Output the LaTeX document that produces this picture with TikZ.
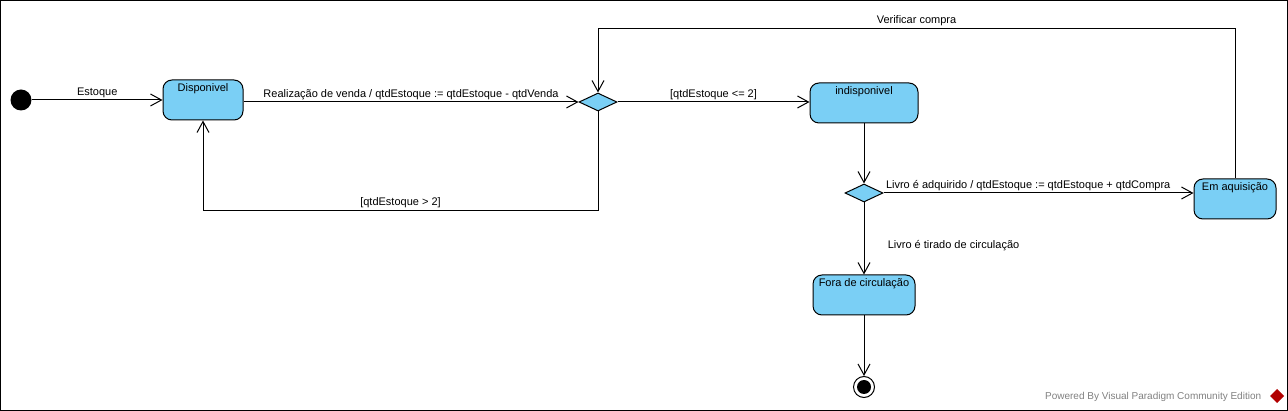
\documentclass[tikz,border=0pt]{standalone}
\usepackage{fontspec}
\setmainfont{Liberation Sans}
\usetikzlibrary{shapes.geometric,arrows.meta}
\definecolor{vpblue}{RGB}{122,207,245}

\begin{document}
\begin{tikzpicture}[x=1pt, y=-1pt, line width=1pt, font=\fontsize{11}{13}\selectfont,
		>={Straight Barb[length=11pt,width=12pt]},
		state/.style = {draw, fill=vpblue, rounded corners=9pt, minimum height=40pt, inner sep=3pt, text height=9pt, text depth=25pt},
		choice/.style = {draw, fill=vpblue, diamond, minimum width=38pt, minimum height=18pt, inner sep=0pt},
		init/.style = {circle, fill, minimum size=21pt, inner sep=0pt},
		fin/.style = {circle, draw, minimum size=21pt, inner sep=0pt, path picture={\fill (path picture bounding box.center) circle (7pt);}},
		lbl/.style = {inner sep=2pt}]
		\useasboundingbox (0,0) rectangle (1288,411);
		\draw (0.5,0.5) rectangle (1287.5,410.5);
		\node[init] (1) at (21,100) {};
		\node[state, minimum width=80pt] (2) at (203,100) {Disponivel};
		\node[choice] (3) at (598,102) {};
		\node[state, minimum width=108pt] (4) at (864,103) {indisponivel};
		\node[choice] (5) at (864,193) {};
		\node[state, minimum width=82pt] (6) at (1235,199) {Em aquisição};
		\node[state, minimum width=102pt] (7) at (864,295) {Fora de circulação};
		\node[fin] (8) at (864,387) {};
		\draw[->] (1) -- node[above, lbl] {Estoque} (2);
		\draw[->] (2.east |- 3) -- node[above, lbl] {Realização de venda / qtdEstoque := qtdEstoque - qtdVenda} (3);
		\draw[->] (3) -- node[above, lbl] {[qtdEstoque <= 2]} (3 -| 4.west);
		\draw[->] (3.south) -- ++(0,99) -| node[pos=0.25, above, lbl] {[qtdEstoque > 2]} (2.south);
		\draw[->] (4) -- (5);
		\draw[->] (5) -- node[pos=0, anchor=south west, lbl] {Livro é adquirido / qtdEstoque := qtdEstoque + qtdCompra} (5 -| 6.west);
		\draw[->] (6.north) -- ++(0,-150) -| node[pos=0.25, above, lbl] {Verificar compra} (3.north);
		\draw[->] (5) -- node[pos=0.6, right=20pt] {Livro é tirado de circulação} (7);
		\draw[->] (7) -- (8);
		% rodape
		\node[anchor=east, text=gray, font=\fontsize{10}{12}\selectfont] (9) at (1265,397) {Powered By Visual Paradigm Community Edition};
		\fill[red!70!black] (1277,389) -- (1284,396) -- (1277,403) -- (1270,396) -- cycle;
	\end{tikzpicture}
\end{document}
